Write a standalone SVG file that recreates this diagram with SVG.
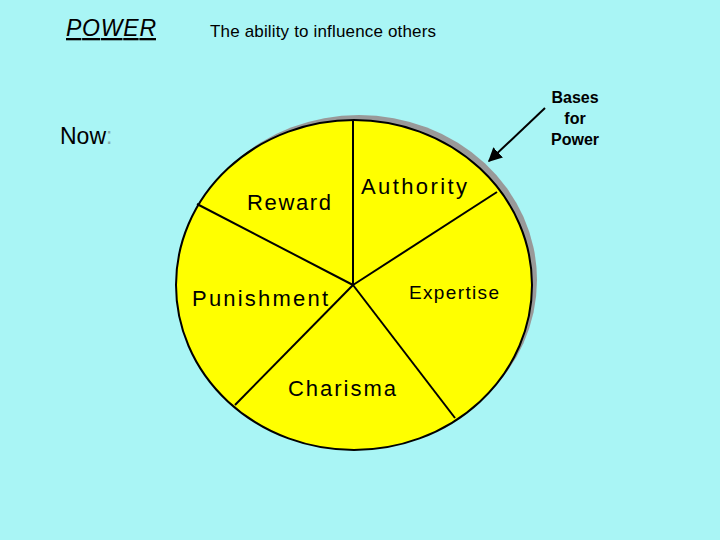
<svg xmlns="http://www.w3.org/2000/svg" width="720" height="540" viewBox="0 0 720 540">
<defs>
<style>
text{font-family:"Liberation Sans",Arial,sans-serif;fill:#000}
.b{font-weight:bold}
.seg{stroke:#000;stroke-width:2;fill:none}
</style>
<marker id="ah" viewBox="0 0 10 10" refX="9" refY="5" markerWidth="7" markerHeight="7" orient="auto"><path d="M0,0L10,5L0,10z" fill="#000"/></marker>
</defs>
<rect width="720" height="540" fill="#a9f5f5"/>
<g id="title">
<text x="66" y="36" font-size="23" font-style="italic" text-decoration="underline" textLength="90">POWER</text>
<text x="210" y="37" font-size="17" textLength="226">The ability to influence others</text>
<text x="60" y="144" font-size="23">Now<tspan fill="#88aaaa">:</tspan></text>
</g>
<g id="pie">
<ellipse cx="359" cy="280" rx="178" ry="165" fill="#999"/>
<ellipse cx="354" cy="285" rx="178" ry="165" fill="#ffff00" stroke="#000" stroke-width="2"/>
</g>
<g id="connectors">
<line class="seg" x1="353" y1="285" x2="353" y2="121"/>
<line class="seg" x1="353" y1="285" x2="497" y2="192"/>
<line class="seg" x1="353" y1="285" x2="455" y2="418"/>
<line class="seg" x1="353" y1="285" x2="235" y2="405"/>
<line class="seg" x1="353" y1="285" x2="197" y2="204"/>
<line class="seg" x1="545" y1="108" x2="489" y2="161" marker-end="url(#ah)"/>
</g>
<g id="labels">
<text x="247" y="210" font-size="22" textLength="84">Reward</text>
<text x="361" y="194" font-size="22" textLength="106">Authority</text>
<text x="192" y="306" font-size="22" textLength="136">Punishment</text>
<text x="409" y="299" font-size="19" textLength="90">Expertise</text>
<text x="288" y="396" font-size="22" textLength="108">Charisma</text>
<text class="b" x="575" y="103" font-size="16" text-anchor="middle">Bases</text>
<text class="b" x="575" y="124" font-size="16" text-anchor="middle">for</text>
<text class="b" x="575" y="145" font-size="16" text-anchor="middle">Power</text>
</g>
</svg>
